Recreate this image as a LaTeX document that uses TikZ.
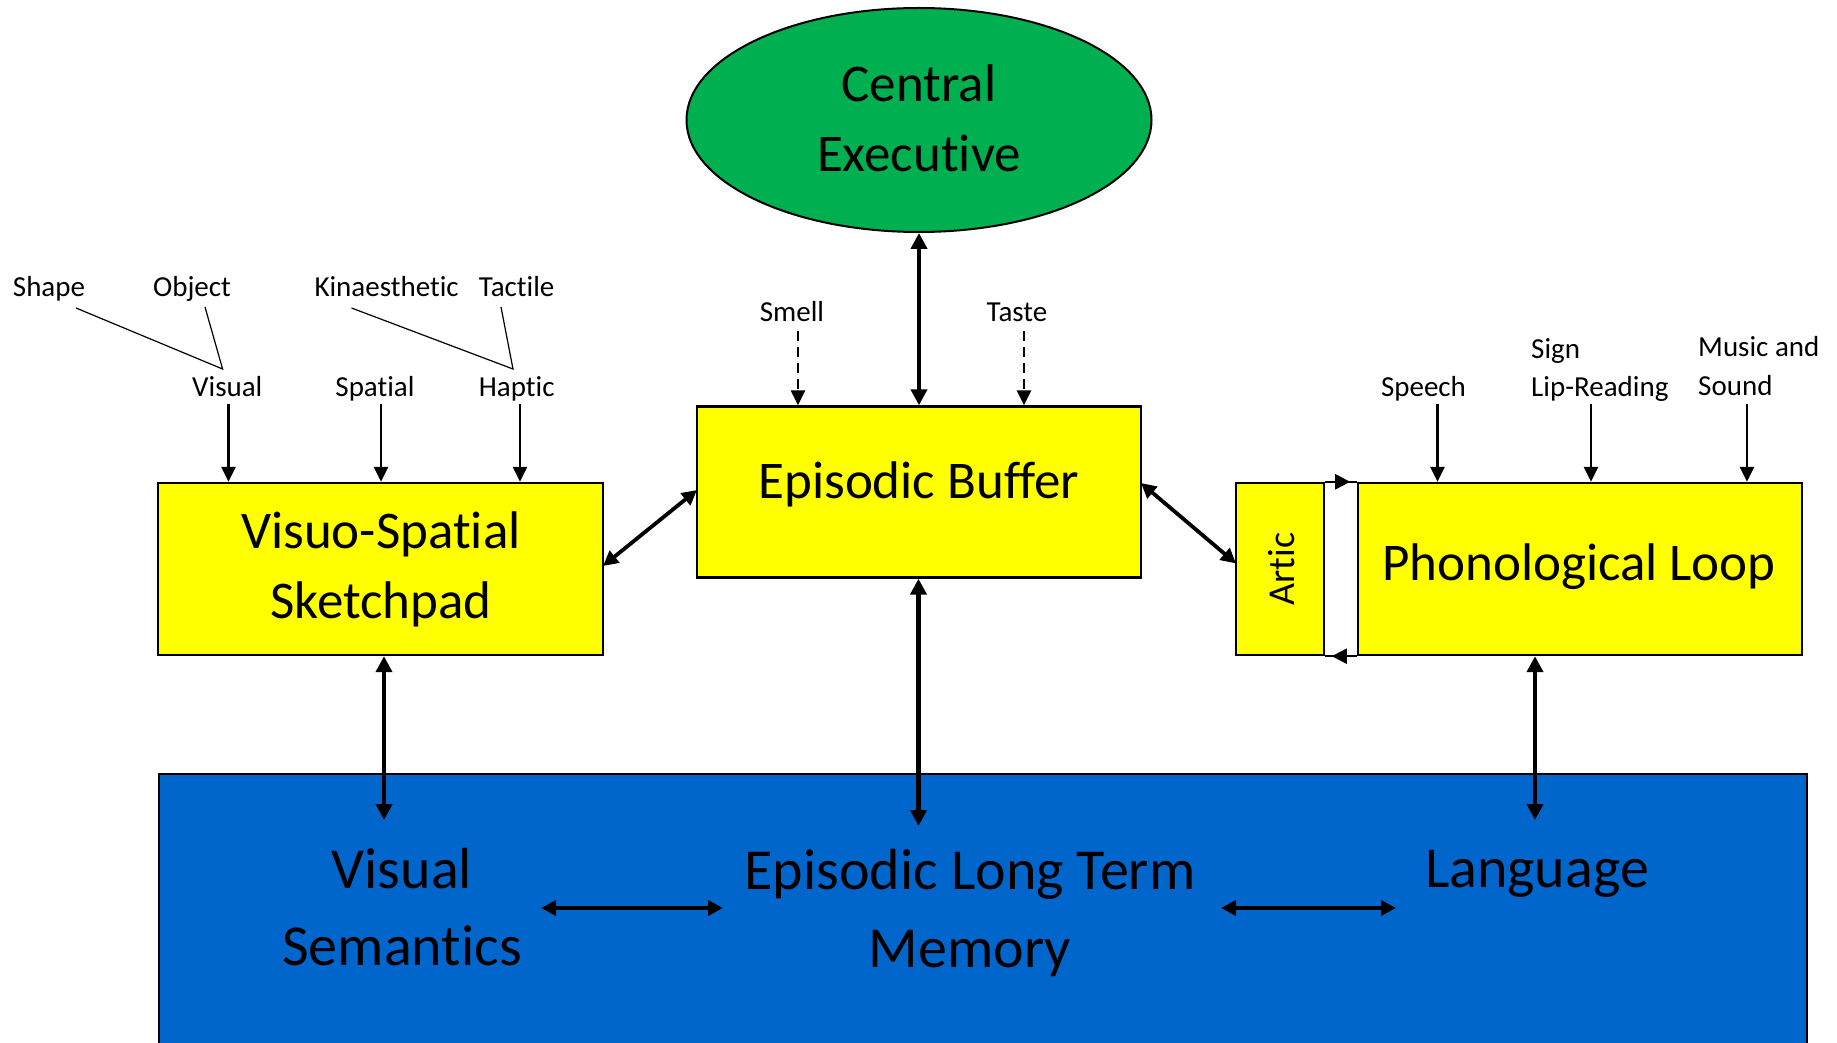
\documentclass[tikz,border=0pt]{standalone}
\usepackage{fontspec}
\setmainfont{Carlito}[Ligatures={NoCommon}]
\usetikzlibrary{arrows.meta,shapes.geometric}
\definecolor{cegreen}{RGB}{0,176,80}
\definecolor{boxyellow}{RGB}{255,255,0}
\definecolor{ltmblue}{RGB}{0,102,204}
\begin{document}
\begin{tikzpicture}[x=1pt,y=-1pt,
  ybox/.style={draw=black,line width=2.4pt,fill=boxyellow,inner sep=0pt,minimum height=172pt},
  bigtext/.style={font=\fontsize{53}{70.3}\selectfont,inner sep=0pt,align=center},
  bluetext/.style={font=\fontsize{58}{77.3}\selectfont,inner sep=0pt,align=center},
  smalltext/.style={font=\fontsize{29}{38.7}\selectfont,inner sep=0pt},
  bigarrow/.style={{Triangle[length=16pt,width=16pt]}-{Triangle[length=16pt,width=16pt]},line width=4.6pt},
  midarrow/.style={{Triangle[length=15pt,width=15pt]}-{Triangle[length=15pt,width=15pt]},line width=3.8pt},
  inarrow/.style={-{Triangle[length=15pt,width=14pt]},line width=2.8pt},
  dasharrow/.style={inarrow,dash pattern=on 10pt off 6pt},
  smallarrow/.style={-{Triangle[length=15pt,width=15pt]},line width=2.4pt},
  thinline/.style={line width=1.2pt}
]
\useasboundingbox (0,0) rectangle (1837,1043);
\clip (0,0) rectangle (1837,1043);

% Long term memory block
\node[draw=black,line width=2.4pt,fill=ltmblue,anchor=north west,minimum width=1648pt,minimum height=300pt,inner sep=0pt] (ltm) at (158,773) {};

% Central executive
\node[ellipse,draw=black,line width=2pt,fill=cegreen,minimum width=465pt,minimum height=224pt,inner sep=0pt] (ce) at (919,120) {};
\node[bigtext] (cetext) at (919,118) {Central\\Executive};

% Yellow boxes
\node[ybox,minimum width=444pt,minimum height=171pt] (eb) at (919,492) {};
\node[bigtext] (ebtext) at (919,484.5) {Episodic Buffer};
\node[ybox,minimum width=445pt] (vss) at (380.5,569) {};
\node[bigtext] (vsstext) at (381,569.5) {Visuo-Spatial\\Sketchpad};
\node[ybox,minimum width=88pt] (artic) at (1280,569) {};
\node[font=\fontsize{38}{40}\selectfont,inner sep=0pt,rotate=90] (artictext) at (1282,569) {Artic};
\node[ybox,minimum width=444pt] (pl) at (1580,569) {};
\node[bigtext] (pltext) at (1579,566.5) {Phonological Loop};

% Blue texts
\node[bluetext] (vsem) at (402,907) {Visual\\Semantics};
\node[bluetext] (eltm) at (970,913) {Episodic Long Term\\Memory};
\node[bluetext] (lang) at (1537,874) {Language};

% Small labels
\node[smalltext,anchor=base] (lshape) at (49,296.5) {Shape};
\node[smalltext,anchor=base] (lobject) at (192,296.5) {Object};
\node[smalltext,anchor=base] (lkin) at (386.6,296.5) {Kinaesthetic};
\node[smalltext,anchor=base] (ltactile) at (516.7,296.5) {Tactile};
\node[smalltext,anchor=base] (lvisual) at (227.3,396) {Visual};
\node[smalltext,anchor=base] (lspatial) at (375,396) {Spatial};
\node[smalltext,anchor=base] (lhaptic) at (516.7,396) {Haptic};
\node[smalltext,anchor=base] (lsmell) at (792,321) {Smell};
\node[smalltext,anchor=base] (ltaste) at (1017,321) {Taste};
\node[smalltext,anchor=base] (lspeech) at (1423.5,396) {Speech};
\node[smalltext,anchor=south west,align=left] (lsign) at (1531,402) {Sign\\Lip-Reading};
\node[smalltext,anchor=south west,align=left] (lmusic) at (1698,396) {Music and\\Sound};

% Thin converging lines
\coordinate (shapeend) at (76,308);
\coordinate (objend) at (205,307);
\coordinate (visjoin) at (222.6,369);
\coordinate (kinend) at (351.5,308);
\coordinate (tacend) at (501,307);
\coordinate (hapjoin) at (513,369);
\draw[thinline] (shapeend) -- (visjoin) -- (objend);
\draw[thinline] (kinend) -- (hapjoin) -- (tacend);

% Input arrows
\coordinate (avis) at (228.5,404);
\coordinate (aspa) at (381,404);
\coordinate (ahap) at (520,404);
\draw[inarrow] (avis) -- (avis |- vss.north);
\draw[inarrow] (aspa) -- (aspa |- vss.north);
\draw[inarrow] (ahap) -- (ahap |- vss.north);
\coordinate (aspe) at (1437.5,404);
\coordinate (asig) at (1591,404);
\coordinate (amus) at (1747,404);
\draw[inarrow] (aspe) -- (aspe |- pl.north);
\draw[inarrow] (asig) -- (asig |- pl.north);
\draw[inarrow] (amus) -- (amus |- pl.north);
\coordinate (asme) at (798,331);
\coordinate (atas) at (1024,331);
\draw[dasharrow] (asme) -- (asme |- eb.north);
\draw[dasharrow] (atas) -- (atas |- eb.north);

% Central executive <-> episodic buffer
\draw[bigarrow] (ce.south) -- (ce.south |- eb.north);

% Diagonal links
\coordinate (vssr) at (603,566);
\coordinate (ebl) at (697,490);
\draw[midarrow] (vssr) -- (ebl);
\coordinate (ebr) at (1141,483);
\coordinate (articl) at (1236,563.5);
\draw[midarrow] (ebr) -- (articl);

% Artic <-> phonological loop
\draw[line width=2.4pt] (artic.north east) -- (pl.north west);
\draw[line width=2.4pt] (artic.south east) -- (pl.south west);
\draw[smallarrow] (artic.north east) -- ++(25,0) coordinate (toptip);
\draw[smallarrow] (pl.south west) -- ++(-25,0) coordinate (bottip);

% Vertical links to long-term memory
\coordinate (vssdown) at (384,820);
\coordinate (ebdown) at (918.5,826);
\coordinate (pldown) at (1535,820);
\draw[bigarrow] (vssdown |- vss.south) -- (vssdown);
\draw[bigarrow] (ebdown |- eb.south) -- (ebdown);
\draw[bigarrow] (pldown |- pl.south) -- (pldown);

% Horizontal links in long-term memory
\coordinate (h1a) at (541,908);
\coordinate (h1b) at (723,908);
\coordinate (h2a) at (1221,908);
\coordinate (h2b) at (1396,908);
\draw[midarrow] (h1a) -- (h1b);
\draw[midarrow] (h2a) -- (h2b);
\end{tikzpicture}
\end{document}
